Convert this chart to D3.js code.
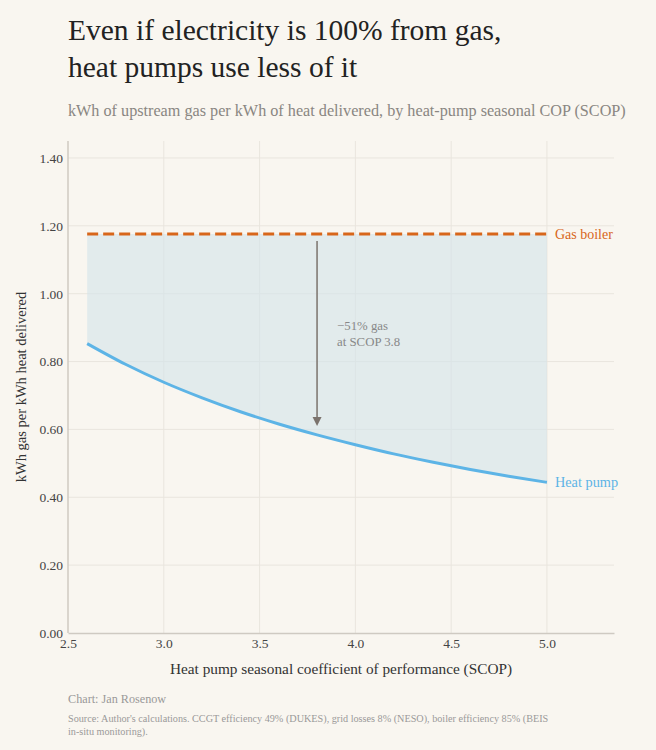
<!DOCTYPE html>
<html>
<head>
<meta charset="utf-8">
<script src="https://cdn.jsdelivr.net/npm/d3@7"></script>
<style>
  body { margin: 0; background: #f9f6f0; }
</style>
</head>
<body>
<script>
// heat pump SCOP vs kWh of upstream gas per kWh heat
const scop = [2.6, 2.8, 3.0, 3.2, 3.4, 3.6, 3.8, 4.0, 4.2, 4.4, 4.6, 4.8, 5.0];
const heatPumpGas = [0.853, 0.792, 0.739, 0.693, 0.652, 0.616, 0.584, 0.555, 0.528, 0.504, 0.482, 0.462, 0.444];
const boilerGas = 1.176;
const xTicks = [2.5, 3.0, 3.5, 4.0, 4.5, 5.0];
const yTicks = [0, 0.2, 0.4, 0.6, 0.8, 1.0, 1.2, 1.4];
const arrowAt = 3.8;
const arrowFrom = 1.155, arrowTo = 0.61;
const annotation = ["\u221251% gas", "at SCOP 3.8"];

const width = 656, height = 750;
const margin = {top: 141, right: 42, bottom: 117, left: 68};
const serif = "'Liberation Serif', 'DejaVu Serif', serif";

const svg = d3.select("body").append("svg")
    .attr("width", width)
    .attr("height", height)
    .style("font-family", serif)
    .style("display", "block")
    .style("background", "#f9f6f0");

const x = d3.scaleLinear().domain([2.5, 5.35]).range([margin.left, width - margin.right]);
const y = d3.scaleLinear().domain([0, 1.45]).range([height - margin.bottom, margin.top]);

const data = scop.map((s, i) => ({s, v: heatPumpGas[i]}));

// titles
svg.append("text").attr("x", 68).attr("y", 40)
    .attr("font-size", 29.5).attr("fill", "#222")
    .text("Even if electricity is 100% from gas,");
svg.append("text").attr("x", 68).attr("y", 77)
    .attr("font-size", 29.5).attr("fill", "#222")
    .text("heat pumps use less of it");
svg.append("text").attr("x", 68).attr("y", 116)
    .attr("font-size", 16.2).attr("fill", "#8a8682")
    .text("kWh of upstream gas per kWh of heat delivered, by heat-pump seasonal COP (SCOP)");

// grid
const grid = svg.append("g");
grid.selectAll(".gy").data(yTicks.slice(1)).join("line")
    .attr("x1", x.range()[0]).attr("x2", x.range()[1])
    .attr("y1", d => y(d)).attr("y2", d => y(d))
    .attr("stroke", "#e9e5de").attr("stroke-width", 1);
grid.selectAll(".gx").data(xTicks.slice(1)).join("line")
    .attr("x1", d => x(d)).attr("x2", d => x(d))
    .attr("y1", y.range()[0]).attr("y2", y.range()[1])
    .attr("stroke", "#e9e5de").attr("stroke-width", 1);

// shaded gap between boiler and heat pump
const area = d3.area()
    .x(d => x(d.s))
    .y0(y(boilerGas))
    .y1(d => y(d.v))
    .curve(d3.curveMonotoneX);
svg.append("path").datum(data)
    .attr("d", area)
    .attr("fill", "#d3e3ea").attr("fill-opacity", 0.62);

// axes
const yAxis = d3.axisLeft(y).tickValues(yTicks).tickFormat(d3.format(".2f")).tickSize(0).tickPadding(5);
const gy = svg.append("g").attr("transform", `translate(${margin.left},0)`).call(yAxis)
    .attr("font-family", null).style("font-family", serif);
gy.select(".domain").attr("stroke", "#cfcac2").attr("stroke-width", 1.5)
    .attr("d", `M0,${y.range()[1]}V${y.range()[0]}`);
gy.selectAll("text").attr("font-size", 13.5).attr("fill", "#444");

const xAxis = d3.axisBottom(x).tickValues(xTicks).tickFormat(d3.format(".1f")).tickSize(0).tickPadding(5);
const gx = svg.append("g").attr("transform", `translate(0,${y(0)})`).call(xAxis)
    .attr("font-family", null).style("font-family", serif);
gx.select(".domain").attr("stroke", "#cfcac2").attr("stroke-width", 1.5);
gx.selectAll("text").attr("font-size", 13.5).attr("fill", "#444");

svg.append("text")
    .attr("transform", `translate(26,${(y.range()[0] + y.range()[1]) / 2}) rotate(-90)`)
    .attr("text-anchor", "middle").attr("font-size", 14.5).attr("fill", "#333")
    .text("kWh gas per kWh heat delivered");
svg.append("text")
    .attr("x", (x.range()[0] + x.range()[1]) / 2).attr("y", 674)
    .attr("text-anchor", "middle").attr("font-size", 15.3).attr("fill", "#333")
    .text("Heat pump seasonal coefficient of performance (SCOP)");

// boiler line
svg.append("line")
    .attr("x1", x(scop[0])).attr("x2", x(scop[scop.length - 1]))
    .attr("y1", y(boilerGas)).attr("y2", y(boilerGas))
    .attr("stroke", "#d8661a").attr("stroke-width", 3)
    .attr("stroke-dasharray", "11,5");

// heat pump curve
const line = d3.line().x(d => x(d.s)).y(d => y(d.v)).curve(d3.curveMonotoneX);
svg.append("path").datum(data)
    .attr("d", line)
    .attr("fill", "none").attr("stroke", "#5db4e6").attr("stroke-width", 3);

// end labels
svg.append("text").attr("x", x(5.0) + 8).attr("y", y(boilerGas)).attr("dy", "0.35em")
    .attr("font-size", 14).attr("fill", "#d8661a").text("Gas boiler");
svg.append("text").attr("x", x(5.0) + 8).attr("y", y(heatPumpGas[heatPumpGas.length - 1])).attr("dy", "0.35em")
    .attr("font-size", 14.3).attr("fill", "#5db4e6").text("Heat pump");

// arrow annotation
const ax = x(arrowAt);
svg.append("line")
    .attr("x1", ax).attr("x2", ax)
    .attr("y1", y(arrowFrom)).attr("y2", y(arrowTo) - 8)
    .attr("stroke", "#7b736d").attr("stroke-width", 1.5);
svg.append("path")
    .attr("d", `M${ax - 4.5},${y(arrowTo) - 9}L${ax + 4.5},${y(arrowTo) - 9}L${ax},${y(arrowTo)}Z`)
    .attr("fill", "#7b736d");
svg.append("g").selectAll("text").data(annotation).join("text")
    .attr("x", ax + 20).attr("y", (d, i) => 330 + i * 16)
    .attr("font-size", 12.8).attr("fill", "#888")
    .text(d => d);

// footer
svg.append("text").attr("x", 68).attr("y", 703)
    .attr("font-size", 12.2).attr("fill", "#999").text("Chart: Jan Rosenow");
const source = ["Source: Author's calculations. CCGT efficiency 49% (DUKES), grid losses 8% (NESO), boiler efficiency 85% (BEIS",
                "in-situ monitoring)."];
svg.append("g").selectAll("text").data(source).join("text")
    .attr("x", 68).attr("y", (d, i) => 722 + i * 13)
    .attr("font-size", 10.2).attr("fill", "#999")
    .text(d => d);
</script>
</body>
</html>
